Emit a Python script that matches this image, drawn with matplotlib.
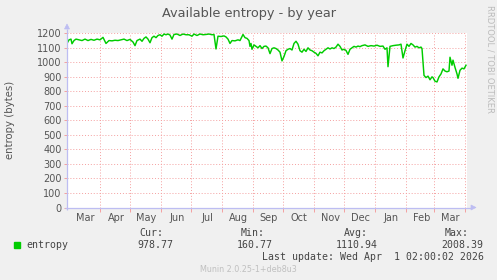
import numpy as np
import matplotlib
matplotlib.use("Agg")
import matplotlib.pyplot as plt
from matplotlib.patches import Polygon

# ---------------- data ----------------
start = np.datetime64("2025-02-27T00:00")
total_days = 400
# day offsets from start
days = [0, 2, 4, 5, 7, 9, 12, 15, 18, 21, 24, 27, 30, 33, 36, 39, 42, 45, 48, 51,
        54, 57, 60, 63, 66, 68, 70, 73, 75, 77, 79, 81, 83, 85, 87, 89, 91, 93, 95, 97,
        99, 101, 103, 105, 107, 110, 113, 116, 119, 122, 125, 127, 130, 133, 136, 139, 142, 145, 147, 149,
        151, 154, 157, 159, 161, 163, 165, 168, 171, 173, 176, 178, 180, 182, 183, 184, 185, 187, 189, 191,
        193, 195, 197, 199, 201, 203, 205, 207, 209, 211, 213, 215, 217, 219, 221, 223, 225, 227, 229, 231,
        233, 235, 237, 239, 241, 243, 245, 247, 249, 251, 253, 255, 257, 259, 261, 263, 265, 267, 269, 271,
        273, 275, 277, 279, 281, 283, 285, 287, 289, 291, 293, 295, 298, 301, 304, 307, 310, 313, 316, 318,
        320, 321, 323, 326, 329, 332, 334, 336, 338, 340, 342, 344, 346, 348, 350, 352, 354, 355, 357, 359,
        361, 363, 365, 366, 368, 370, 372, 374, 376, 378, 380, 382, 383, 385, 386, 388, 390, 391, 393, 395,
        397, 399]
entropy = [1130, 1155, 1160, 1128, 1150, 1160, 1155, 1150, 1160, 1150, 1158, 1152, 1160, 1155, 1172, 1130, 1150, 1148, 1152, 1150,
           1155, 1160, 1150, 1158, 1140, 1115, 1150, 1160, 1145, 1165, 1175, 1160, 1135, 1170, 1180, 1170, 1185, 1190, 1180, 1195,
           1190, 1195, 1188, 1160, 1192, 1195, 1185, 1195, 1190, 1190, 1180, 1195, 1185, 1195, 1190, 1192, 1195, 1190, 1192, 1092,
           1180, 1178, 1182, 1175, 1160, 1130, 1150, 1148, 1155, 1150, 1192, 1170, 1165, 1150, 1110, 1130, 1090, 1120, 1110, 1100,
           1115, 1095, 1110, 1112, 1100, 1060, 1095, 1100, 1095, 1085, 1070, 1010, 1040, 1080, 1090, 1095, 1085, 1130, 1145, 1125,
           1080, 1070, 1090, 1075, 1100, 1085, 1080, 1070, 1062, 1045, 1070, 1065, 1080, 1090, 1100, 1092, 1100, 1095, 1105, 1125,
           1110, 1085, 1090, 1082, 1055, 1090, 1100, 1110, 1105, 1112, 1108, 1115, 1120, 1110, 1115, 1112, 1118, 1110, 1112, 1090,
           1100, 970, 1110, 1115, 1118, 1120, 1125, 1030, 1080, 1125, 1110, 1130, 1120, 1105, 1110, 1100, 1105, 1095, 910, 895,
           905, 880, 900, 895, 870, 865, 900, 920, 955, 940, 935, 940, 1035, 980, 1015, 965, 920, 890, 945, 960,
           955, 980]
month_labels = ["Mar", "Apr", "May", "Jun", "Jul", "Aug", "Sep", "Oct", "Nov", "Dec", "Jan", "Feb", "Mar"]
yticks = [0, 100, 200, 300, 400, 500, 600, 700, 800, 900, 1000, 1100, 1200]
legend_name = "entropy"
cur, vmin, avg, vmax = 978.77, 160.77, 1110.94, 2008.39

# ---------------- figure ----------------
W, H = 497, 280
fig = plt.figure(figsize=(W / 100, H / 100), dpi=100, facecolor="#F0F0F0")

def fx(x):
    return x / W

def fy(y):
    return 1 - y / H

L, R, T, B = 67, 467, 33.3, 207.5
ax = fig.add_axes([fx(L), fy(B), fx(R) - fx(L), fy(T) - fy(B)])
ax.set_facecolor("white")
ax.set_xlim(0, total_days)
ax.set_ylim(0, 1200)

# month boundaries (Mar 2025 .. Apr 2026)
month_starts = np.arange(np.datetime64("2025-03"), np.datetime64("2026-05"), np.timedelta64(1, "M"))
bounds = [(np.datetime64(m, "m") - start) / np.timedelta64(1, "D") for m in month_starts]

grid_col = "#F4A0A0"
vb = [b for b in bounds[1:] if 0 < b <= total_days]
for b in vb:
    ax.axvline(b, color=grid_col, lw=0.7, ls=(0, (1, 2)), zorder=1)
for yv in yticks[1:]:
    ax.axhline(yv, color=grid_col, lw=0.7, ls=(0, (1, 2)), zorder=1)

ax.plot(days, entropy, color="#00CC00", lw=1.05, zorder=3)

for s in ax.spines.values():
    s.set_visible(False)

ax.set_yticks(yticks)
ax.set_yticklabels([str(v) for v in yticks])
ax.tick_params(axis="y", length=2, width=0.7, color=grid_col, labelsize=7, labelcolor="#555555", pad=2)
ax.set_xticks(vb)
ax.set_xticklabels([])
ax.tick_params(axis="x", length=3, width=0.7, color=grid_col)

# month labels centred mid-month
for b, lab in zip(bounds, month_labels):
    c = b + 16
    if 0 <= c <= total_days:
        ax.text(c, -40, lab, ha="center", va="top", fontsize=7, color="#555555")

# axes lines with arrows, drawn inside the axes so they sit above its background
axis_col = "#BDBDF2"
pw = R - L
ph = B - T
ax.plot([0, 0], [-2 / ph, 1 + 4 / ph], transform=ax.transAxes, clip_on=False,
        color=axis_col, lw=0.9, solid_capstyle="butt", zorder=4)
ax.plot([-2 / pw, 1 + 4 / pw], [0, 0], transform=ax.transAxes, clip_on=False,
        color=axis_col, lw=0.9, solid_capstyle="butt", zorder=4)

def tri_px(pts):
    fig.add_artist(Polygon([(fx(a), fy(b)) for a, b in pts], closed=True, transform=fig.transFigure,
                           facecolor=axis_col, edgecolor=axis_col, lw=0.5, zorder=5))
tri_px([(64.5, 29), (69.5, 29), (67, 24)])
tri_px([(471, 205), (471, 210), (476, 207.5)])

# titles
fig.text(fx(248.5), fy(13.5), "Available entropy - by year", ha="center", va="center",
         fontsize=9.3, color="#555555")
fig.text(fx(10), fy(120), "entropy (bytes)", ha="center", va="center", rotation=90,
         fontsize=7.3, color="#555555")
fig.text(fx(490), fy(5), "RRDTOOL / TOBI OETIKER", ha="center", va="top", rotation=270,
         fontsize=6.0, color="#BBBBBB")

# legend
mono = "DejaVu Sans Mono"
fig.patches.append(plt.Rectangle((fx(14), fy(248.3)), fx(6), fy(242.3) - fy(248.3),
                                 transform=fig.transFigure, color="#00CC00", figure=fig))
fig.text(fx(26.5), fy(245.5), legend_name, ha="left", va="center", family=mono, fontsize=7.1, color="#444444")
cols = [("Cur:", 163, f"{cur:.2f}", 173),
        ("Min:", 265, f"{vmin:.2f}", 273),
        ("Avg:", 367.5, f"{avg:.2f}", 378),
        ("Max:", 469, f"{vmax:.2f}", 483.5)]
for head, hx, val, vx in cols:
    fig.text(fx(hx), fy(233.3), head, ha="right", va="center", family=mono, fontsize=7.1, color="#444444")
    fig.text(fx(vx), fy(245.5), val, ha="right", va="center", family=mono, fontsize=7.1, color="#444444")
fig.text(fx(483.5), fy(257.5), "Last update: Wed Apr  1 02:00:02 2026", ha="right", va="center",
         family=mono, fontsize=7.1, color="#444444")
fig.text(fx(248.5), fy(269), "Munin 2.0.25-1+deb8u3", ha="center", va="center",
         fontsize=5.8, color="#C0C0C0")

fig.savefig("out.png", dpi=100, facecolor=fig.get_facecolor())
